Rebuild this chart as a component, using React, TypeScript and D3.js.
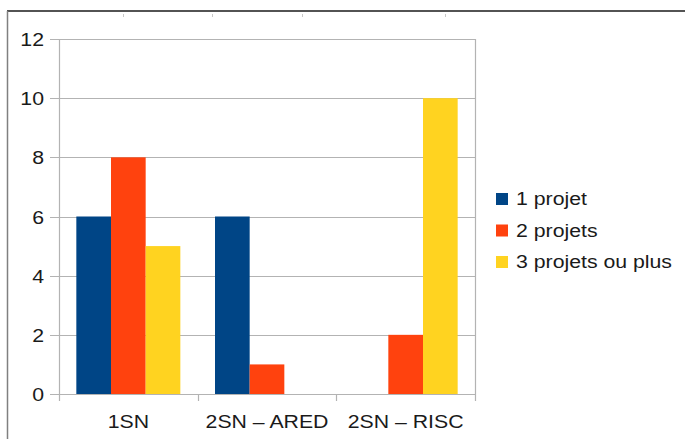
import { scaleBand, scaleLinear } from 'd3'

const categories = ['1SN', '2SN – ARED', '2SN – RISC']
const seriesNames = ['1 projet', '2 projets', '3 projets ou plus']
const onePro = [6, 6, 0]
const twoPro = [8, 1, 2]
const threePlus = [5, 0, 10]
const yTickValues = [0, 2, 4, 6, 8, 10, 12]
const topMarks = [123, 212, 302, 445]

const colors = ['#004586', '#ff420e', '#ffd320']

const width = 685
const height = 439
const plot = { left: 59, right: 475, top: 39, bottom: 394 }

// the reference text is a little wider than Liberation Sans draws it
const stretch = 1.15
const fontSize = 18.5

function App() {
  const series = [onePro, twoPro, threePlus]

  const xScale = scaleBand().domain(categories).range([plot.left, plot.right]).padding(0)
  const inner = scaleBand()
    .domain(seriesNames)
    .range([0, xScale.bandwidth()])
    .paddingOuter(0.5)
    .paddingInner(0)
  const yScale = scaleLinear().domain([0, 12]).range([plot.bottom, plot.top])

  const font = '"Liberation Sans", Arial, sans-serif'

  return (
    <svg
      width={width}
      height={height}
      style={{ position: 'absolute', left: 0, top: 0, background: '#fff' }}
      fontFamily={font}
    >
      <line x1={7} y1={11} x2={width} y2={11} stroke="#1a1a1a" strokeWidth={1.6} />
      <line x1={7.5} y1={11} x2={7.5} y2={height} stroke="#808080" strokeWidth={1.5} />
      {topMarks.map((x) => (
        <line key={x} x1={x + 0.5} y1={14} x2={x + 0.5} y2={17} stroke="#c8c8c8" />
      ))}

      {yTickValues.map((tick) => {
        const y = Math.round(yScale(tick)) + 0.5
        return (
          <g key={tick}>
            <line x1={plot.left - 9} y1={y} x2={plot.right} y2={y} stroke="#b3b3b3" strokeWidth={1.2} />
            <text
              transform={`translate(${plot.left - 15}, ${y}) scale(${stretch}, 1)`}
              dy="0.35em"
              textAnchor="end"
              fontSize={fontSize}
              fill="#1a1a1a"
            >
              {tick}
            </text>
          </g>
        )
      })}

      {categories.map((cat, ci) => {
        const x0 = xScale(cat) ?? 0
        return series.map((vals, si) => {
          const v = vals[ci]
          if (v === 0) return null
          const y = yScale(v)
          return (
            <rect
              key={`${cat}-${si}`}
              x={x0 + (inner(seriesNames[si]) ?? 0)}
              y={y}
              width={inner.bandwidth()}
              height={plot.bottom - y}
              fill={colors[si]}
            />
          )
        })
      })}

      <line x1={plot.left + 0.5} y1={plot.top} x2={plot.left + 0.5} y2={plot.bottom + 7} stroke="#b3b3b3" strokeWidth={1.2} />
      <line x1={plot.right + 0.5} y1={plot.top} x2={plot.right + 0.5} y2={plot.bottom + 7} stroke="#b3b3b3" strokeWidth={1.2} />
      {categories.slice(1).map((cat) => {
        const x = Math.round(xScale(cat) ?? 0) + 0.5
        return <line key={cat} x1={x} y1={plot.bottom} x2={x} y2={plot.bottom + 7} stroke="#b3b3b3" strokeWidth={1.2} />
      })}

      {categories.map((cat) => (
        <text
          key={cat}
          transform={`translate(${(xScale(cat) ?? 0) + xScale.bandwidth() / 2}, 422) scale(${stretch}, 1)`}
          dy="0.35em"
          textAnchor="middle"
          fontSize={fontSize}
          fill="#1a1a1a"
        >
          {cat}
        </text>
      ))}

      {seriesNames.map((name, i) => {
        const cy = 199 + i * 31.5
        return (
          <g key={name}>
            <rect x={496} y={cy - 6} width={12} height={12} fill={colors[i]} />
            <text
              transform={`translate(516, ${cy}) scale(${stretch}, 1)`}
              dy="0.35em"
              fontSize={fontSize}
              fill="#1a1a1a"
            >
              {name}
            </text>
          </g>
        )
      })}
    </svg>
  )
}

export default App
